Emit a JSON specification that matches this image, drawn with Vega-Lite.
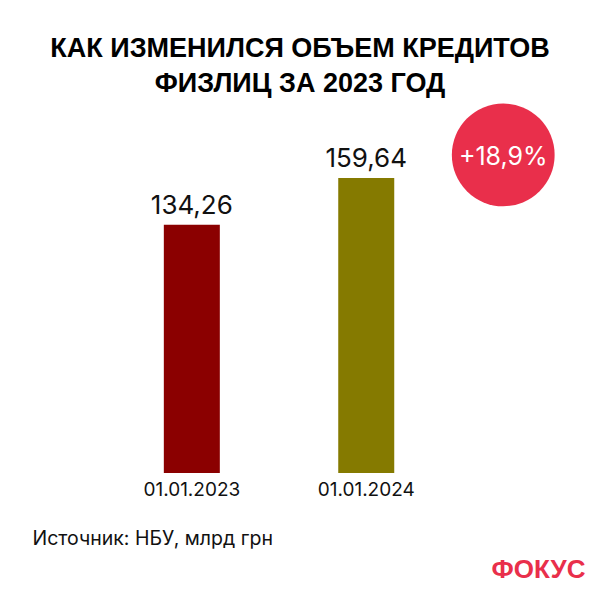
{
  "$schema": "https://vega.github.io/schema/vega-lite/v6.json",
  "width": 600,
  "height": 363,
  "autosize": {"type": "none"},
  "padding": {"top": 110, "left": 0, "right": 0, "bottom": 127},
  "background": "white",
  "title": {
    "text": ["КАК ИЗМЕНИЛСЯ ОБЪЕМ КРЕДИТОВ", "ФИЗЛИЦ ЗА 2023 ГОД"],
    "font": "Liberation Sans",
    "fontSize": 27,
    "fontWeight": "bold",
    "color": "#000000",
    "lineHeight": 35,
    "anchor": "middle",
    "offset": 6
  },
  "config": {"view": {"stroke": null}},
  "data": {
    "values": [
      {"date": "01.01.2023", "value": 134.26, "label": "134,26"},
      {"date": "01.01.2024", "value": 159.64, "label": "159,64"}
    ]
  },
  "layer": [
    {
      "mark": {"type": "bar", "width": 56},
      "encoding": {
        "x": {
          "field": "date",
          "type": "nominal",
          "scale": {"paddingInner": 0.56, "paddingOuter": 1, "align": 0.4399},
          "axis": {
            "title": "Источник: НБУ, млрд грн",
            "titleFont": "Inter",
            "titleFontSize": 19.5,
            "titleFontWeight": "normal",
            "titleColor": "#111111",
            "titleX": 32,
            "titleY": 71,
            "titleAlign": "left",
            "titleAnchor": "start",
            "titleBaseline": "alphabetic",
            "labelFont": "Inter",
            "labelFontSize": 19,
            "labelColor": "#111111",
            "labelAngle": 0,
            "labelPadding": 7,
            "labelBaseline": "top",
            "ticks": false,
            "domain": false
          }
        },
        "y": {
          "field": "value",
          "type": "quantitative",
          "scale": {"domain": [0, 196.4], "nice": false},
          "axis": {
            "orient": "right",
            "title": "ФОКУС",
            "titleAngle": 0,
            "titleX": -15,
            "titleY": 467,
            "titleAlign": "right",
            "titleBaseline": "alphabetic",
            "titleFont": "Liberation Sans",
            "titleFontSize": 26,
            "titleFontWeight": "bold",
            "titleColor": "#E92F4B",
            "labels": false,
            "ticks": false,
            "domain": false,
            "grid": false
          }
        },
        "color": {
          "field": "date",
          "type": "nominal",
          "scale": {"range": ["#8B0000", "#857A00"]},
          "legend": null
        }
      }
    },
    {
      "mark": {"type": "text", "baseline": "alphabetic", "dy": -11, "font": "Inter", "fontSize": 26, "color": "#111111"},
      "encoding": {
        "x": {"field": "date", "type": "nominal"},
        "y": {"field": "value", "type": "quantitative"},
        "text": {"field": "label"}
      }
    },
    {
      "data": {"values": [{"date": "01.01.2024", "change": "+18,9%"}]},
      "layer": [
        {
          "mark": {"type": "point", "filled": true, "size": 10568, "color": "#E92F4B", "opacity": 1, "xOffset": 137},
          "encoding": {
            "x": {"field": "date", "type": "nominal"},
            "y": {"datum": 172.1, "type": "quantitative"}
          }
        },
        {
          "mark": {"type": "text", "baseline": "middle", "dy": 2, "xOffset": 137, "font": "Inter", "fontSize": 25, "color": "#FFFFFF"},
          "encoding": {
            "x": {"field": "date", "type": "nominal"},
            "y": {"datum": 172.1, "type": "quantitative"},
            "text": {"field": "change"}
          }
        }
      ]
    }
  ]
}
